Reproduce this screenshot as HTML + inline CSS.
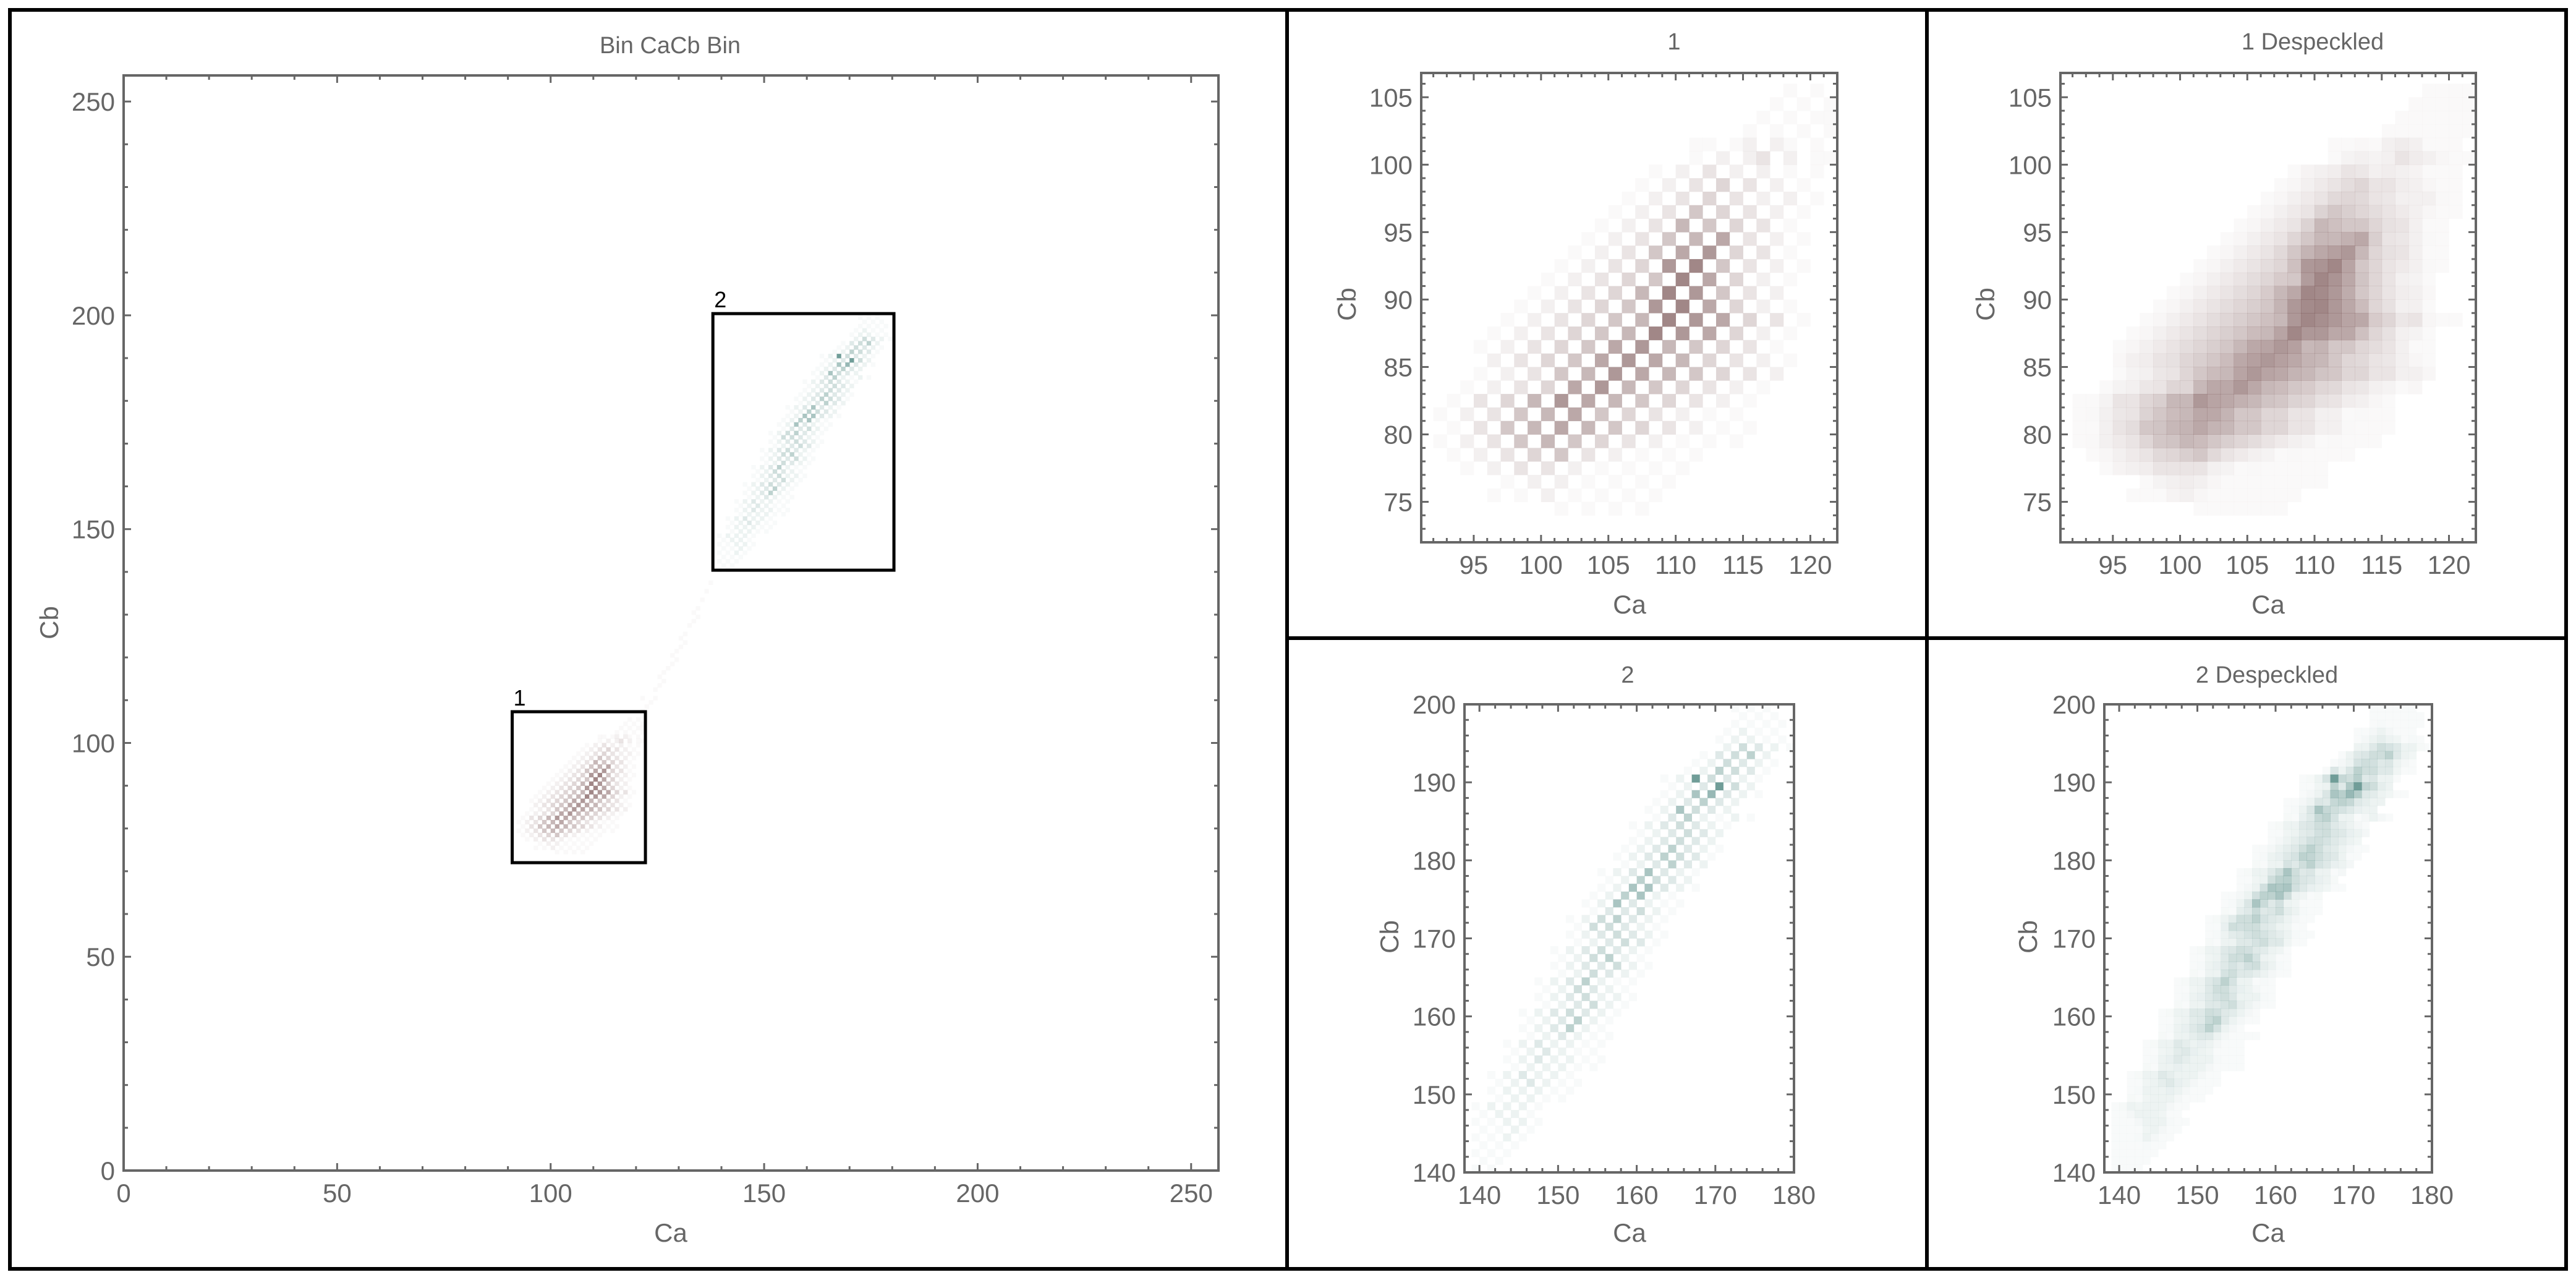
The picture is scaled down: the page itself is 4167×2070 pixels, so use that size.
<!DOCTYPE html>
<html><head><meta charset="utf-8"><style>
html,body{margin:0;padding:0;background:#fff;}
svg{display:block;}
text{font-family:"Liberation Sans",sans-serif;}
</style></head><body>
<svg id="root" width="4167" height="2070" viewBox="0 0 4167 2070" xmlns="http://www.w3.org/2000/svg">
<defs>
<clipPath id="clipO"><rect x="200" y="122" width="1771" height="1771"/></clipPath>
<clipPath id="clipA"><rect x="2299" y="118" width="673" height="759"/></clipPath>
<clipPath id="clipB"><rect x="3333" y="118" width="672" height="759"/></clipPath>
<clipPath id="clipC"><rect x="2369" y="1139" width="533" height="757"/></clipPath>
<clipPath id="clipD"><rect x="3404" y="1139" width="530" height="757"/></clipPath>
</defs>
<rect x="0" y="0" width="4167" height="2070" fill="#fff"/>
<g id="layer"></g>
<text x="1084" y="86" font-size="38" fill="#666" text-anchor="middle">Bin CaCb Bin</text>
<text x="1085" y="2008" font-size="42" fill="#666" text-anchor="middle">Ca</text>
<text x="0" y="0" font-size="42" fill="#666" text-anchor="middle" transform="translate(94,1007) rotate(-90)">Cb</text>
<text x="2708" y="80" font-size="38" fill="#666" text-anchor="middle">1</text>
<text x="2636" y="992" font-size="42" fill="#666" text-anchor="middle">Ca</text>
<text x="0" y="0" font-size="42" fill="#666" text-anchor="middle" transform="translate(2193,492) rotate(-90)">Cb</text>
<text x="3741" y="80" font-size="38" fill="#666" text-anchor="middle">1 Despeckled</text>
<text x="3669" y="992" font-size="42" fill="#666" text-anchor="middle">Ca</text>
<text x="0" y="0" font-size="42" fill="#666" text-anchor="middle" transform="translate(3226,492) rotate(-90)">Cb</text>
<text x="2633" y="1104" font-size="38" fill="#666" text-anchor="middle">2</text>
<text x="2636" y="2008" font-size="42" fill="#666" text-anchor="middle">Ca</text>
<text x="0" y="0" font-size="42" fill="#666" text-anchor="middle" transform="translate(2262,1515) rotate(-90)">Cb</text>
<text x="3667" y="1104" font-size="38" fill="#666" text-anchor="middle">2 Despeckled</text>
<text x="3669" y="2008" font-size="42" fill="#666" text-anchor="middle">Ca</text>
<text x="0" y="0" font-size="42" fill="#666" text-anchor="middle" transform="translate(3295,1515) rotate(-90)">Cb</text>
<rect x="16" y="16" width="4135" height="2036" fill="none" stroke="#000" stroke-width="6"/>
<line x1="2082" y1="16" x2="2082" y2="2052" stroke="#000" stroke-width="6"/>
<line x1="3117" y1="16" x2="3117" y2="2052" stroke="#000" stroke-width="6"/>
<line x1="2082" y1="1032" x2="4151" y2="1032" stroke="#000" stroke-width="6"/>
</svg>
<script>
// ---- data: region 1 raw bins (top row Cb = 105), each row: start Ca, intensities ----
const r1TopCb = 105;
const r1Start = [118,117,116,115,111,111,108,107,106,105,104,103,102,101,100,99,98,97,96,95,95,95,94,92,92,92,92,93,94,97,96,101];
const r1Vals = ["1010","10101","101011","1010101","1101202101","10202302011","1020302020101","10203040302010","102030403020201","1020305040302010","1020306050403010","10203050607030201","102030507080403010","1020304080905030201","1020304050907040201","10203040609080503020","102030405080907040201","102030405060908070403010","10203040506090807040201","102030405070806050403010","020304050708070604030201","102030506080706050403020","102030407080605040302010","010304060807060504030201","102030506070504030201010","010305060706050403020101","10203050605040302010101","10203040503020101010","10203030201010101","10202010101010","1010201010101","1010101"];
// ---- region 2 raw bins (top row Cb = 199) ----
const r2TopCb = 199;
const r2Start = [172,172,172,170,170,170,168,167,166,163,163,163,161,161,161,159,159,159,157,157,157,155,155,155,153,153,153,151,151,151,151,149,149,149,149,147,147,147,147,145,145,145,145,143,143,143,143,141,141,141,141,139,139,139,139,139,139,139,139,139];
const r2Vals = ["101010","0101010","1010101","01020101","102020101","0204030201","1030405020","10204030201","102050403010","1020904030201","010203090402","10206070302010","0102030503020","102060403020","01030502010201","1020304030201","0102030403020","102030403020","010203050302010","10203050403010","0102030503020","10203060302010","0102050403020","10206060302010","0102050602010","1020603020101","0103030402010","10204050302010","0104040302010","10203040302010","0102030403010","1020304030201","0102040502010","1020303040201","0102040302010","1020305020101","0102040302010","1020304020201","0102030402010","1020304030201","0102030502010","10203050201","0102030201010","1020302020101","0102030201010","1020302020101","0102020201010","102030202010","010203020101","10202020101","0102020101","1020202010","010202010","1010202010","010102010","10102010","0101010","101010","01010","1010"];
// ---- faint trail between regions (overview only) ----
const trailCa = [121,122,123,124,124,125,126,126,127,128,128,129,130,130,131,132,133,133,134,135,136,121,125,129,131,134,137];
const trailCb = [107,108,109,110,112,113,114,116,117,118,120,121,122,124,125,127,128,130,131,133,135,110,115,119,123,129,137];
// tick labels
const ovTicks = [0,50,100,150,200,250];
const p1xTicks = [95,100,105,110,115,120];
const p1yTicks = [75,80,85,90,95,100,105];
const p2xTicks = [140,150,160,170,180];
const p2yTicks = [140,150,160,170,180,190,200];

const NS = "http://www.w3.org/2000/svg";
const layer = document.getElementById('layer');
function mk(tag, attrs, parent){ const e=document.createElementNS(NS,tag); for(const k in attrs) e.setAttribute(k,attrs[k]); (parent||layer).appendChild(e); return e; }
function lin(d0,d1,r0,r1){ return v => r0 + (v-d0)*(r1-r0)/(d1-d0); }

function toCells(topCb, starts, vals){
  const cells=[];
  for(let r=0;r<vals.length;r++){ const cb=topCb-r; for(let i=0;i<vals[r].length;i++){ cells.push({ca:starts[r]+i, cb:cb, v:+vals[r][i]}); } }
  return cells;
}
function despeckle(cells){
  const m=new Map(); cells.forEach(c=>m.set(c.ca+','+c.cb,c.v));
  return cells.map(c=>{
    if(c.v>0) return c;
    const nb=[[1,0],[-1,0],[0,1],[0,-1]].map(d=>m.get((c.ca+d[0])+','+(c.cb+d[1]))).filter(v=>v>0);
    return {ca:c.ca, cb:c.cb, v: nb.length? nb.reduce((a,b)=>a+b,0)/nb.length : 0};
  });
}
function alphaOf(v){ return 0.03 + 0.62*Math.pow((v-1)/8, 1.2); }

function heat(cells, xs, ys, rgb, clip, name){
  const g=mk('g',{'clip-path':'url(#'+clip+')'});
  
  
  cells.forEach(c=>{
    if(!(c.v>0)) return;
    const x0=xs(c.ca), x1=xs(c.ca+1), y0=ys(c.cb+1), y1=ys(c.cb);
    const r=mk('rect',{x:x0.toFixed(2),y:y0.toFixed(2),width:(x1-x0+0.4).toFixed(2),height:(y1-y0+0.4).toFixed(2),fill:rgb,'fill-opacity':alphaOf(Math.max(1,c.v)).toFixed(3)},g);
    
    
  });
}

function frame(X0,X1,Y0,Y1,xs,ys,xd,yd,majX,majY,minStep,name){
  const g=mk('g',{});
  
  
  const fr=mk('rect',{x:X0,y:Y0,width:X1-X0,height:Y1-Y0,fill:'none',stroke:'#666','stroke-width':4},g);
  
  
  const isMaj=(v,arr)=>arr.some(a=>Math.abs(a-v)<1e-6);
  for(let v=Math.ceil(xd[0]/minStep)*minStep; v<=xd[1]+1e-9; v+=minStep){
    const x=xs(v), L=isMaj(v,majX)?12:7;
    mk('line',{x1:x,y1:Y1,x2:x,y2:Y1-L,stroke:'#666','stroke-width':3},g);
    mk('line',{x1:x,y1:Y0,x2:x,y2:Y0+L,stroke:'#666','stroke-width':3},g);
  }
  for(let v=Math.ceil(yd[0]/minStep)*minStep; v<=yd[1]+1e-9; v+=minStep){
    const y=ys(v), L=isMaj(v,majY)?12:7;
    mk('line',{x1:X0,y1:y,x2:X0+L,y2:y,stroke:'#666','stroke-width':3},g);
    mk('line',{x1:X1,y1:y,x2:X1-L,y2:y,stroke:'#666','stroke-width':3},g);
  }
  majX.forEach(v=>{ const t=mk('text',{x:xs(v),y:Y1+51,'font-size':42,fill:'#666','text-anchor':'middle'},g); t.textContent=v;
    
     });
  majY.forEach(v=>{ const t=mk('text',{x:X0-14,y:ys(v)+15,'font-size':42,fill:'#666','text-anchor':'end'},g); t.textContent=v;
    
     });
}

const C1='rgb(110,70,70)', C2='rgb(35,105,97)';
const raw1=toCells(r1TopCb,r1Start,r1Vals), raw2=toCells(r2TopCb,r2Start,r2Vals);
const ds1=despeckle(raw1), ds2=despeckle(raw2);
const trail=trailCa.map((ca,i)=>({ca:ca, cb:trailCb[i], v:1}));

// overview
const oxs=lin(0,256.4,200,1971), oys=lin(0,256.1,1893,122);
heat(trail,oxs,oys,C1,'clipO','overview-trail');
heat(raw1,oxs,oys,C1,'clipO','overview-region-1');
heat(raw2,oxs,oys,C2,'clipO','overview-region-2');
frame(200,1971,122,1893,oxs,oys,[0,256.4],[0,256.1],ovTicks,ovTicks,10,'overview-axes');
const b1=mk('rect',{x:oxs(91),y:oys(107.3),width:oxs(122.2)-oxs(91),height:oys(72)-oys(107.3),fill:'none',stroke:'#000','stroke-width':5});


const b2=mk('rect',{x:oxs(138),y:oys(200.4),width:oxs(180.4)-oxs(138),height:oys(140.4)-oys(200.4),fill:'none',stroke:'#000','stroke-width':5});


const l1=mk('text',{x:oxs(91)+2,y:oys(107.3)-10,'font-size':36,fill:'#000'}); l1.textContent='1';


const l2=mk('text',{x:oxs(138)+2,y:oys(200.4)-10,'font-size':36,fill:'#000'}); l2.textContent='2';



// panel 1 and despeckled
const p1ys=lin(72,106.8,877,118);
const p1axs=lin(91.1,122,2299,2972), p1bxs=lin(91.1,122,3333,4005);
heat(raw1,p1axs,p1ys,C1,'clipA','panel-1-heatmap');
frame(2299,2972,118,877,p1axs,p1ys,[91.1,122],[72,106.8],p1xTicks,p1yTicks,1,'panel-1-axes');
heat(ds1,p1bxs,p1ys,C1,'clipB','panel-1-despeckled-heatmap');
frame(3333,4005,118,877,p1bxs,p1ys,[91.1,122],[72,106.8],p1xTicks,p1yTicks,1,'panel-1-despeckled-axes');

// panel 2 and despeckled
const p2ys=lin(140,200,1896,1139);
const p2axs=lin(138.1,180,2369,2902), p2bxs=lin(138.1,180,3404,3934);
heat(raw2,p2axs,p2ys,C2,'clipC','panel-2-heatmap');
frame(2369,2902,1139,1896,p2axs,p2ys,[138.1,180],[140,200],p2xTicks,p2yTicks,2,'panel-2-axes');
heat(ds2,p2bxs,p2ys,C2,'clipD','panel-2-despeckled-heatmap');
frame(3404,3934,1139,1896,p2bxs,p2ys,[138.1,180],[140,200],p2xTicks,p2yTicks,2,'panel-2-despeckled-axes');
</script>
</body></html>
